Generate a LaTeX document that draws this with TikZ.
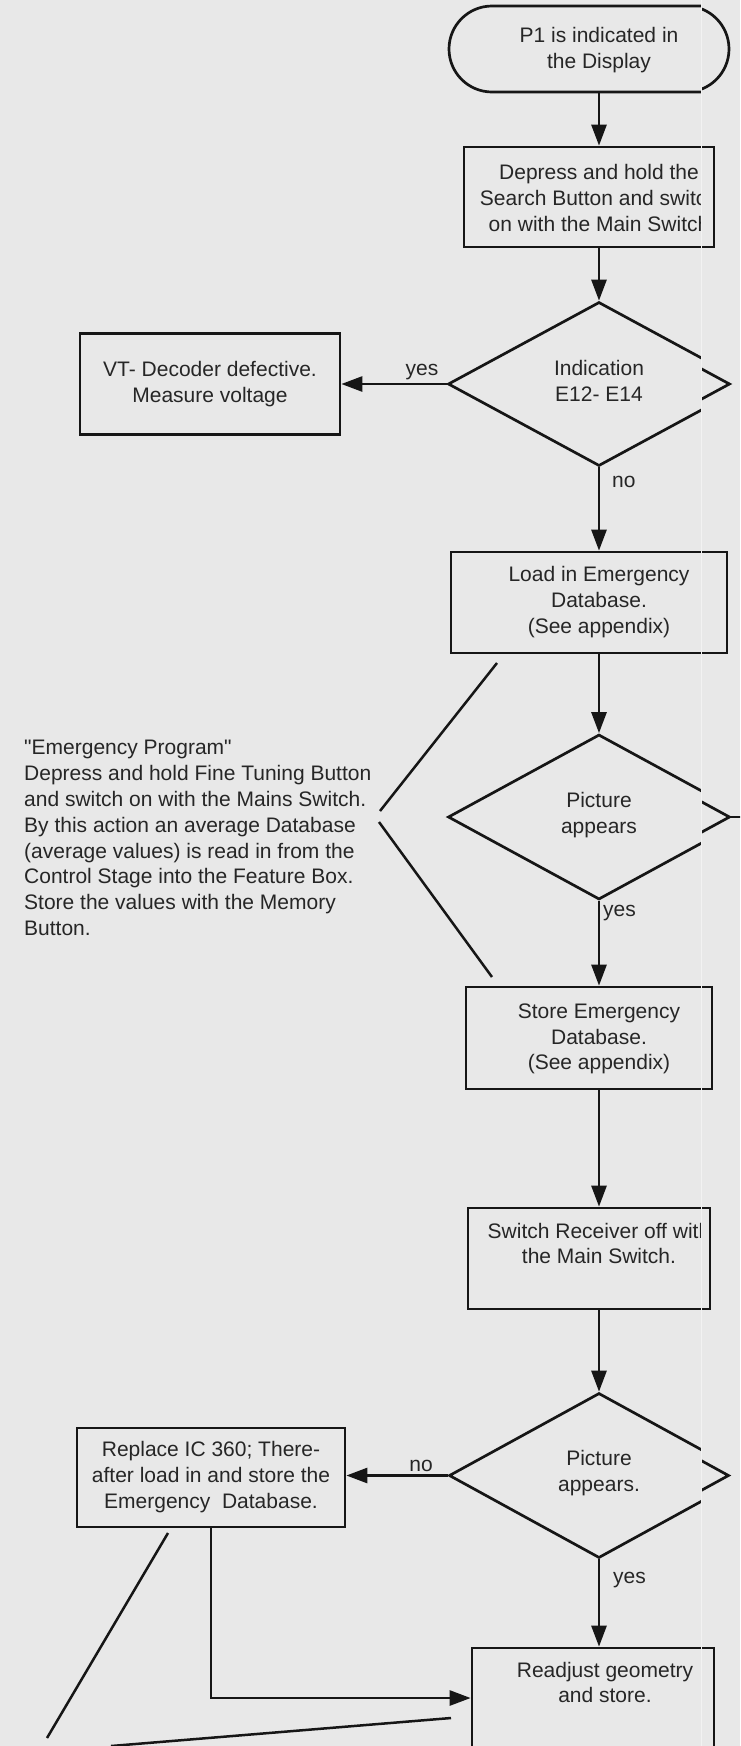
\documentclass[tikz,border=0pt]{standalone}
\usepackage{fontspec}
\setmainfont{Liberation Sans}[Ligatures=TeXOff]
\usetikzlibrary{arrows.meta,shapes.geometric}

\definecolor{paper}{HTML}{E8E8E8}
\definecolor{ink}{HTML}{161616}
\definecolor{print}{HTML}{262626}
\definecolor{seamline}{HTML}{F2F2F2}

\tikzset{
  outline/.style={draw=ink, line width=2.7pt},
  terminal/.style={outline, rectangle, rounded corners=43pt, inner sep=0pt,
                   minimum width=300pt, minimum height=86pt},
  stepbox/.style={outline, rectangle, inner sep=0pt},
  decision/.style={outline, diamond, inner sep=0pt},
  flowarrow/.style={draw=ink, line width=2.7pt, -{Triangle[length=21pt,width=15pt]}},
  plainline/.style={draw=ink, line width=2.5pt},
  caption/.style={text=print, font=\fontsize{21}{25.8}\selectfont, align=center, inner sep=0pt},
  branch/.style={text=print, font=\fontsize{21}{25.8}\selectfont, inner sep=0pt},
}

% Outlines and connectors of the flow chart (text is set separately)
\newcommand\flowshapes{%
  \node[terminal] (term) at (599,49) {};
  \node[stepbox, minimum width=270pt, minimum height=100pt] (hold) at (599,197) {};
  \node[decision, minimum width=302pt, minimum height=164pt] (ind) at (599,384) {};
  \node[stepbox, minimum width=260pt, minimum height=101pt] (vt) at (210,384) {};
  \node[stepbox, minimum width=296pt, minimum height=101pt] (load) at (599,602.5) {};
  \node[decision, minimum width=302pt, minimum height=165pt] (pic) at (599,817) {};
  \node[stepbox, minimum width=266pt, minimum height=102pt] (store) at (599,1038) {};
  \node[stepbox, minimum width=262pt, minimum height=101pt] (off) at (599,1258.5) {};
  \node[decision, minimum width=300pt, minimum height=165pt] (pictwo) at (599,1475.5) {};
  \node[stepbox, minimum width=268pt, minimum height=99pt] (repl) at (211,1477.5) {};
  \node[stepbox, minimum width=262pt, minimum height=100pt] (adj) at (603,1698) {};
  \coordinate (picout) at (800,817);
  \draw[flowarrow] (term.south) -- (hold.north);
  \draw[flowarrow] (hold.south) -- (ind.north);
  \draw[flowarrow] (ind.west) -- (vt.east);
  \draw[flowarrow] (ind.south) -- (load.north);
  \draw[flowarrow] (load.south) -- (pic.north);
  \draw[plainline] (pic.east) -- (picout);
  \draw[flowarrow] (pic.south) -- (store.north);
  \draw[flowarrow] (store.south) -- (off.north);
  \draw[flowarrow] (off.south) -- (pictwo.north);
  \draw[flowarrow] (pictwo.west) -- (pictwo.west -| repl.east);
  \draw[flowarrow] (pictwo.south) -- (pictwo.south |- adj.north);
  \draw[flowarrow] (repl.south) |- (adj.west);
}

\begin{document}
\begin{tikzpicture}[x=1pt,y=-1pt]
  \useasboundingbox (0,0) rectangle (740,1746);
  \clip (0,0) rectangle (740,1746);
  \fill[paper] (0,0) rectangle (740,1746);

  % main sheet, up to the fold
  \begin{scope}
    \clip (-5,-5) rectangle (701,1760);
    \flowshapes
  \end{scope}

  % texts of the chart
  \begin{scope}
    \clip (-5,-5) rectangle (701,1760);
    \node[caption] (term-t) at (599,50) {P1 is indicated in\\the Display};
    \node[caption] (hold-t) at (599,198) {Depress and hold the\\Search Button and switch\\on with the Main Switch};
    \node[caption] (ind-t) at (599,381) {Indication\\E12- E14};
    \node[caption] (vt-t) at (210,384) {VT- Decoder defective.\\Measure voltage};
    \node[caption] (load-t) at (599,602) {Load in Emergency\\Database.\\(See appendix)};
    \node[caption] (pic-t) at (599,815) {Picture\\appears};
    \node[caption] (store-t) at (599,1039) {Store Emergency\\Database.\\(See appendix)};
    \node[caption] (off-t) at (599,1243.5) {Switch Receiver off with\\the Main Switch.};
    \node[caption] (pictwo-t) at (599,1473) {Picture\\appears.};
    \node[caption] (repl-t) at (211,1477) {Replace IC 360; There-\\after load in and store the\\Emergency\ \ Database.};
    \node[caption] (adj-t) at (605,1682.5) {Readjust geometry\\and store.};

    \node[branch] (yes-a) at (422,372) {yes};
    \node[branch, anchor=west] (no-a) at (612,482) {no};
    \node[branch, anchor=west] (yes-b) at (603,913) {yes};
    \node[branch] (no-b) at (421,1466) {no};
    \node[branch, anchor=west] (yes-c) at (613,1580) {yes};

    \node[branch, align=left, anchor=west] (note) at (24,838)
      {"Emergency Program"\\
       Depress and hold Fine Tuning Button\\
       and switch on with the Mains Switch.\\
       By this action an average Database\\
       (average values) is read in from the\\
       Control Stage into the Feature Box.\\
       Store the values with the Memory\\
       Button.};
  \end{scope}

  % callout lines of the note and of the foot text
  \coordinate (noteA) at (380,811);
  \coordinate (noteB) at (497,663);
  \coordinate (noteC) at (379,822);
  \coordinate (noteD) at (492,977);
  \coordinate (footA) at (168,1533);
  \coordinate (footB) at (47,1738);
  \coordinate (footC) at (111,1746);
  \coordinate (footD) at (451,1718);
  \draw[plainline] (noteA) -- (noteB);
  \draw[plainline] (noteC) -- (noteD);
  \draw[plainline] (footA) -- (footB);
  \draw[plainline] (footC) -- (footD);

  % right strip beyond the fold, pasted slightly to the left
  \begin{scope}[shift={(-20,0)}, name prefix=r-]
    \clip (721,-5) rectangle (800,1760);
    \flowshapes
  \end{scope}
  \draw[seamline, line width=1.3pt] (701.5,0) -- (701.5,1746);
\end{tikzpicture}
\end{document}
